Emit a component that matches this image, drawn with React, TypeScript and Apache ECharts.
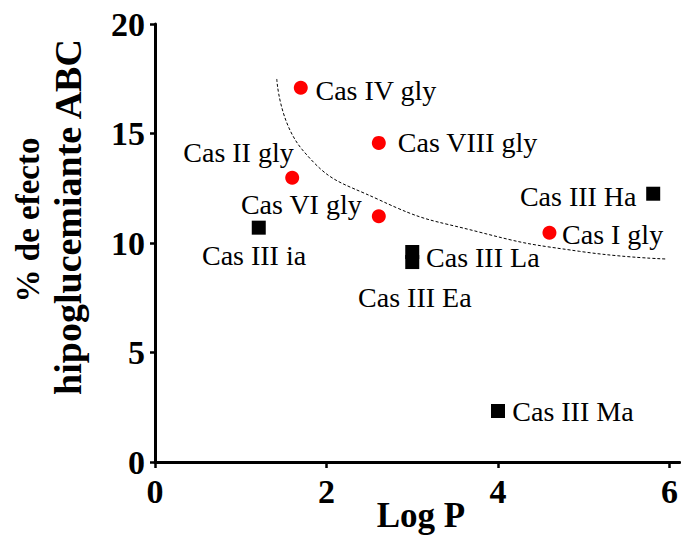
import React, { useEffect, useRef } from "react";
import * as echarts from "echarts";

// ---- data ----
const glyNames = ["Cas IV gly", "Cas VIII gly", "Cas II gly", "Cas VI gly", "Cas I gly"];
const glyX = [1.70, 2.61, 1.60, 2.61, 4.60];
const glyY = [17.09, 14.57, 12.98, 11.22, 10.47];

const casNames = ["Cas III ia", "Cas III La", "Cas III Ea", "Cas III Ma", "Cas III Ha"];
const casX = [1.21, 3.0, 3.0, 4.0, 5.81];
const casY = [10.7, 9.59, 9.13, 2.33, 12.25];

const curveX = [1.42, 1.72, 2.62, 3.78, 4.95, 5.96];
const curveY = [17.49, 14.25, 11.96, 10.5, 9.62, 9.27];

const xTicks = [0, 2, 4, 6];
const yTicks = [0, 5, 10, 15, 20];

const xTitle = "Log P";
const yTitle1 = "% de efecto";
const yTitle2 = "hipoglucemiante ABC";

// label placement (style only)
const labelPlace: Record<string, { align: string; offset: [number, number] }> = {
  "Cas IV gly": { align: "left", offset: [14.7, 2.8] },
  "Cas VIII gly": { align: "left", offset: [19, 0] },
  "Cas II gly": { align: "center", offset: [-53.7, -25] },
  "Cas VI gly": { align: "center", offset: [-77.5, -12] },
  "Cas I gly": { align: "left", offset: [12.6, 1.3] },
  "Cas III ia": { align: "center", offset: [-4.7, 28.3] },
  "Cas III La": { align: "left", offset: [13.8, 5.5] },
  "Cas III Ea": { align: "center", offset: [2.6, 35.5] },
  "Cas III Ma": { align: "left", offset: [14.3, 1] },
  "Cas III Ha": { align: "right", offset: [-16.7, 2.3] },
};

const FONT = "'Liberation Serif', 'Times New Roman', serif";

function pointItems(names: string[], xs: number[], ys: number[]) {
  return names.map((n, i) => ({
    name: n,
    value: [xs[i], ys[i]],
    label: {
      show: true,
      formatter: n,
      position: ["50%", "50%"],
      align: labelPlace[n].align,
      verticalAlign: "middle",
      offset: labelPlace[n].offset,
      fontFamily: FONT,
      fontSize: 28,
      color: "#000",
    },
  }));
}

export default function App() {
  const ref = useRef<HTMLDivElement>(null);
  useEffect(() => {
    if (!ref.current) return;
    const chart = echarts.init(ref.current, null, { renderer: "svg" });
    chart.setOption({
      animation: false,
      backgroundColor: "#fff",
      grid: { left: 155, right: 0, top: 24, bottom: 73, containLabel: false },
      xAxis: {
        type: "value",
        min: 0,
        max: 6.12,
        splitLine: { show: false },
        axisLine: { show: true, onZero: false, lineStyle: { color: "#000", width: 3 } },
        axisTick: { show: true, customValues: xTicks, length: 6, lineStyle: { color: "#000", width: 2.5 } },
        axisLabel: {
          customValues: xTicks,
          margin: 12,
          fontFamily: FONT,
          fontWeight: "bold",
          fontSize: 34,
          color: "#000",
        },
      },
      yAxis: {
        type: "value",
        min: 0,
        max: 20,
        interval: 5,
        splitLine: { show: false },
        axisLine: { show: true, onZero: false, lineStyle: { color: "#000", width: 3 } },
        axisTick: { show: true, customValues: yTicks, length: 5, lineStyle: { color: "#000", width: 2.5 } },
        axisLabel: {
          customValues: yTicks,
          margin: 10,
          fontFamily: FONT,
          fontWeight: "bold",
          fontSize: 34,
          color: "#000",
        },
      },
      graphic: [
        {
          type: "text",
          x: 28,
          y: 220,
          rotation: Math.PI / 2,
          style: {
            text: yTitle1,
            fontFamily: FONT,
            fontWeight: "bold",
            fontSize: 33,
            fill: "#000",
            align: "center",
            verticalAlign: "middle",
          },
        },
        {
          type: "text",
          x: 68,
          y: 217,
          rotation: Math.PI / 2,
          style: {
            text: yTitle2,
            fontFamily: FONT,
            fontWeight: "bold",
            fontSize: 38,
            fill: "#000",
            align: "center",
            verticalAlign: "middle",
          },
        },
        {
          type: "text",
          x: 421,
          y: 515,
          style: {
            text: xTitle,
            fontFamily: FONT,
            fontWeight: "bold",
            fontSize: 35,
            fill: "#000",
            align: "center",
            verticalAlign: "middle",
          },
        },
      ],
      series: [
        {
          type: "line",
          data: curveX.map((x, i) => [x, curveY[i]]),
          smooth: 0.5,
          showSymbol: false,
          symbol: "none",
          lineStyle: { color: "#000", width: 1, type: [3, 2] },
          silent: true,
          z: 1,
        },
        {
          type: "scatter",
          symbol: "circle",
          symbolSize: 14,
          itemStyle: { color: "#ff0000", opacity: 1 },
          data: pointItems(glyNames, glyX, glyY),
          z: 3,
        },
        {
          type: "scatter",
          symbol: "rect",
          symbolSize: 14,
          itemStyle: { color: "#000", opacity: 1 },
          data: pointItems(casNames, casX, casY),
          z: 3,
        },
      ],
    });
    return () => chart.dispose();
  }, []);
  return (
    <div
      ref={ref}
      style={{ position: "fixed", left: 0, top: 0, width: 681, height: 535, background: "#fff" }}
    />
  );
}
